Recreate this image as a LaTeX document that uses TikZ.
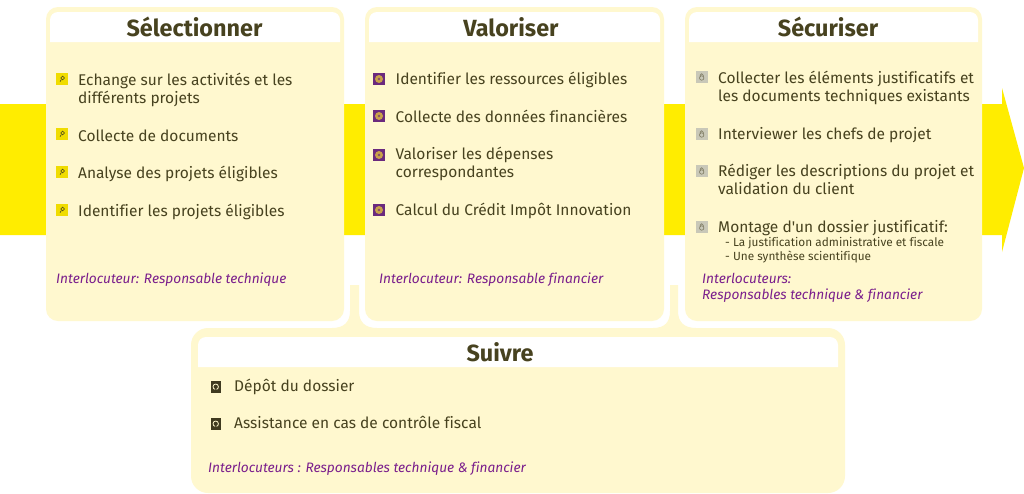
\documentclass[tikz,border=0pt]{standalone}
\usepackage{fontspec}
\setmainfont[Ligatures={TeXOff,NoCommon}]{Fira Sans}
\definecolor{band}{HTML}{FFED00}
\definecolor{cardfill}{HTML}{FFF8CF}
\definecolor{ink}{HTML}{47421F}
\definecolor{purp}{HTML}{7A1E8C}
\definecolor{plum}{HTML}{6B2A7E}
\definecolor{gearc}{HTML}{C9A24A}
\definecolor{lockg}{HTML}{C9C8B8}
\definecolor{darkb}{HTML}{3F3A20}
\definecolor{lensy}{HTML}{F0DC00}
\tikzset{
  x=1pt,y=-1pt,
  card/.style={fill=cardfill,rounded corners=12pt},
  head/.style={fill=white},
  titletxt/.style={inner sep=0pt,anchor=base,text=ink,font=\fontsize{23.4}{26}\selectfont\bfseries},
  itemtxt/.style={inner sep=0pt,anchor=base west,align=left,text=ink,font=\fontsize{15.5}{18.7}\selectfont},
  subtxt/.style={inner sep=0pt,anchor=base west,align=left,text=ink,font=\fontsize{11.8}{14}\selectfont},
  whotxt/.style={inner sep=0pt,anchor=base west,align=left,text=purp,font=\fontsize{13.7}{16}\selectfont\itshape},
  lens/.pic={
    \fill[lensy] (0,0) rectangle (12,12);
    \draw[ink,line width=.6pt] (6.6,5) circle (1.9);
    \draw[ink,line width=.6pt] (5.4,6.5) -- (4,8.6);
  },
  gearicon/.pic={
    \fill[plum] (0,0) rectangle (12,12);
    \fill[gearc] (6,6) circle (4);
    \fill[plum!70!gearc] (6,6) circle (1.4);
  },
  lockicon/.pic={
    \fill[lockg] (0,0) rectangle (12.5,12);
    \draw[ink!70,line width=.6pt] (4.7,5.6) -- (4.7,4.2) .. controls (4.7,2.2) and (7.7,2.2) .. (7.7,4.2) -- (7.7,5.6);
    \draw[ink!70,line width=.6pt] (6.2,7) circle (2.2);
  },
  phoneicon/.pic={
    \fill[darkb] (0,0) rectangle (10.5,11.5);
    \draw[cardfill,line width=.8pt] (5.2,3) .. controls (1.8,3) and (1.8,8) .. (4.6,8.4);
    \draw[cardfill,line width=.8pt] (5.2,3) .. controls (8.6,3) and (8.6,8) .. (6,8.4);
  },
}
\begin{document}
\begin{tikzpicture}
\useasboundingbox (0,0) rectangle (1024,493);
\fill[white] (0,0) rectangle (1024,493);
% big arrow
\fill[band] (0,104) -- (1002,104) -- (1002,88) -- (1024,168) -- (1002,252) -- (1002,235) -- (0,235) -- cycle;
% cards
\fill[card] (46,7) rectangle (344,321);
\fill[card] (365,7) rectangle (664,321);
\fill[card] (685,7) rectangle (982,321);
% headers
\fill[head] (50,42) [rounded corners=8pt] -- (50,12) -- (340,12) [sharp corners] -- (340,42) -- cycle;
\fill[head] (369,42) [rounded corners=8pt] -- (369,12) -- (660,12) [sharp corners] -- (660,42) -- cycle;
\fill[head] (689,42) [rounded corners=8pt] -- (689,12) -- (978,12) [sharp corners] -- (978,42) -- cycle;
% follow-up card with its two stems
\fill[cardfill] (191,345) arc[start angle=180,end angle=270,radius=17]
  -- (332,328) .. controls (344,328) and (350,322) .. (350,311) -- (350,285) -- (359,285) -- (359,311)
  .. controls (359,322) and (365,328) .. (377,328)
  -- (653,328) .. controls (665,328) and (670,322) .. (670,311) -- (670,285) -- (678,285) -- (678,311)
  .. controls (678,322) and (684,328) .. (696,328)
  -- (828,328) arc[start angle=-90,end angle=0,radius=17]
  -- (845,476) arc[start angle=0,end angle=90,radius=17]
  -- (208,493) arc[start angle=90,end angle=180,radius=17] -- cycle;
\fill[head] (198,367) [rounded corners=8pt] -- (198,337) -- (838,337) [sharp corners] -- (838,367) -- cycle;
% titles
\node[titletxt] (t1) at (194.5,36) {Sélectionner};
\node[titletxt] (t2) at (511,36) {Valoriser};
\node[titletxt] (t3) at (828,36) {Sécuriser};
\node[titletxt] (t4) at (500,361) {Suivre};
% column 1
\pic at (56,73) {lens}; \pic at (56,128) {lens}; \pic at (56,166) {lens}; \pic at (56,204) {lens};
\node[itemtxt] (a1) at (78,103.7) {Echange sur les activités et les\\différents projets};
\node[itemtxt] (a2) at (78,141) {Collecte de documents};
\node[itemtxt] (a3) at (78,178) {Analyse des projets éligibles};
\node[itemtxt] (a4) at (78,216) {Identifier les projets éligibles};
\node[whotxt] (a5) at (56,283) {Interlocuteur: Responsable technique};
% column 2
\pic at (373,73) {gearicon}; \pic at (373,110) {gearicon}; \pic at (373,149) {gearicon}; \pic at (373,204) {gearicon};
\node[itemtxt] (b1) at (395.5,84) {Identifier les ressources éligibles};
\node[itemtxt] (b2) at (395.5,122) {Collecte des données financières};
\node[itemtxt] (b3) at (395.5,177.7) {Valoriser les dépenses\\correspondantes};
\node[itemtxt] (b4) at (395.5,215) {Calcul du Crédit Impôt Innovation};
\node[whotxt] (b5) at (379,283) {Interlocuteur: Responsable financier};
% column 3
\pic at (695.5,71) {lockicon}; \pic at (695.5,128) {lockicon}; \pic at (695.5,165) {lockicon}; \pic at (695.5,221) {lockicon};
\node[itemtxt] (c1) at (718,101.7) {Collecter les éléments justificatifs et\\les documents techniques existants};
\node[itemtxt] (c2) at (718,139) {Interviewer les chefs de projet};
\node[itemtxt] (c3) at (718,194.7) {Rédiger les descriptions du projet et\\validation du client};
\node[itemtxt] (c4) at (718,232) {Montage d'un dossier justificatif:};
\node[subtxt] (c5) at (725,260) {- La justification administrative et fiscale\\- Une synthèse scientifique};
\node[whotxt] (c6) at (702,299) {Interlocuteurs:\\Responsables technique \& financier};
% bottom
\pic at (210.5,381) {phoneicon}; \pic at (210.5,418) {phoneicon};
\node[itemtxt] (d1) at (234,391) {Dépôt du dossier};
\node[itemtxt] (d2) at (234,428) {Assistance en cas de contrôle fiscal};
\node[whotxt] (d3) at (208,472) {Interlocuteurs : Responsables technique \& financier};
\end{tikzpicture}
\end{document}
